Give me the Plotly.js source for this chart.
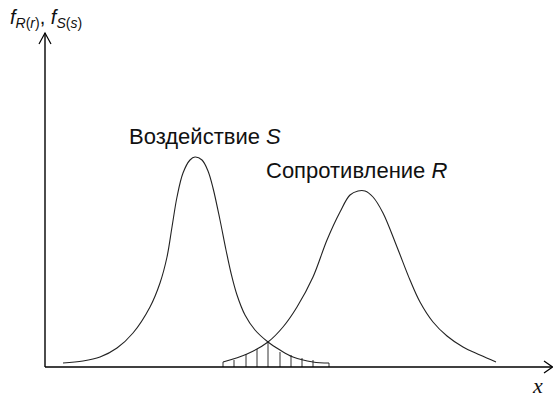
<!DOCTYPE html>
<html>
<head>
<meta charset="utf-8">
<script src="https://cdn.plot.ly/plotly-3.0.1.min.js"></script>
<style>
  html, body { margin: 0; padding: 0; background: #fff; }
  #chart { width: 553px; height: 401px; }
</style>
</head>
<body>
<div id="chart"></div>
<script>
// curve points (x along axis, height above axis)
const loadX = [18, 38, 55, 72, 88, 105, 115, 122, 127, 132, 138, 145, 150, 157, 163, 168, 175, 181, 186, 192, 200, 210, 223, 235, 248, 268, 284];
const loadY = [4, 6, 10, 19, 34, 60, 84, 110, 140, 170, 194, 207, 210, 207, 196, 179, 147, 117, 94, 72, 52, 37, 25, 17, 10, 5, 4];

const resistX = [178, 202, 223, 238, 252, 268, 282, 295, 305, 313, 320, 328, 338, 352, 365, 375, 388, 402, 418, 435, 451];
const resistY = [5, 13, 25, 40, 60, 90, 127, 155, 172, 176, 176, 170, 154, 120, 87, 65, 45, 31, 20, 12, 5];

// hatched overlap: x of each stroke and its top
const hatchX = [178, 189, 201, 212, 223, 235, 246, 257, 268, 284];
const hatchTop = [5, 7, 13, 18, 25, 15, 12, 9, 7, 4];

const labelS = "Воздействие <i>S</i>";
const labelR = "Сопротивление <i>R</i>";
const labelY = "<i>f</i><sub><i>R</i>(<i>r</i>)</sub>, <i>f</i><sub><i>S</i>(<i>s</i>)</sub>";
const labelX = "<i>x</i>";

const hx = [], hy = [];
hatchX.forEach((x, i) => {
    hx.push(x, x, null);
    hy.push(0, hatchTop[i], null);
});

const traces = [
    {
        x: hx, y: hy, type: "scatter", mode: "lines",
        line: {color: "#333", width: 1}, hoverinfo: "skip"
    },
    {
        x: loadX, y: loadY, type: "scatter", mode: "lines",
        line: {color: "#222", width: 1.1, shape: "spline", smoothing: 1}
    },
    {
        x: resistX, y: resistY, type: "scatter", mode: "lines",
        line: {color: "#222", width: 1.1, shape: "spline", smoothing: 1}
    }
];

const axisLine = {type: "line", xref: "x", yref: "y", line: {color: "#000", width: 1.4}};
const arrowLine = {type: "path", xref: "x", yref: "y", line: {color: "#000", width: 1.2}};

const layout = {
    width: 553,
    height: 401,
    margin: {l: 0, r: 0, t: 0, b: 0},
    paper_bgcolor: "#fff",
    plot_bgcolor: "#fff",
    showlegend: false,
    xaxis: {range: [-45, 508], visible: false, fixedrange: true},
    yaxis: {range: [-34, 367], visible: false, fixedrange: true},
    shapes: [
        Object.assign({x0: 0, y0: 0, x1: 507, y1: 0}, axisLine),
        Object.assign({x0: 0, y0: 0, x1: 0, y1: 334}, axisLine),
        Object.assign({path: "M -6 323 L 0 334 L 6 323"}, arrowLine),
        Object.assign({path: "M 499 6 L 507.5 0 L 499 -6"}, arrowLine)
    ],
    annotations: [
        {x: 160, y: 231, xref: "x", yref: "y", text: labelS, showarrow: false,
         font: {family: "Liberation Sans, Arial", size: 22, color: "#111"}},
        {x: 311, y: 197, xref: "x", yref: "y", text: labelR, showarrow: false,
         font: {family: "Liberation Sans, Arial", size: 22, color: "#111"}},
        {x: -37, y: 349, xref: "x", yref: "y", xanchor: "left", text: labelY, showarrow: false,
         font: {family: "Liberation Sans, Arial", size: 20, color: "#111"}},
        {x: 492, y: -18, xref: "x", yref: "y", text: labelX, showarrow: false,
         font: {family: "Liberation Serif, Times New Roman", size: 22, color: "#111"}}
    ]
};

Plotly.newPlot("chart", traces, layout, {staticPlot: true});
</script>
</body>
</html>
